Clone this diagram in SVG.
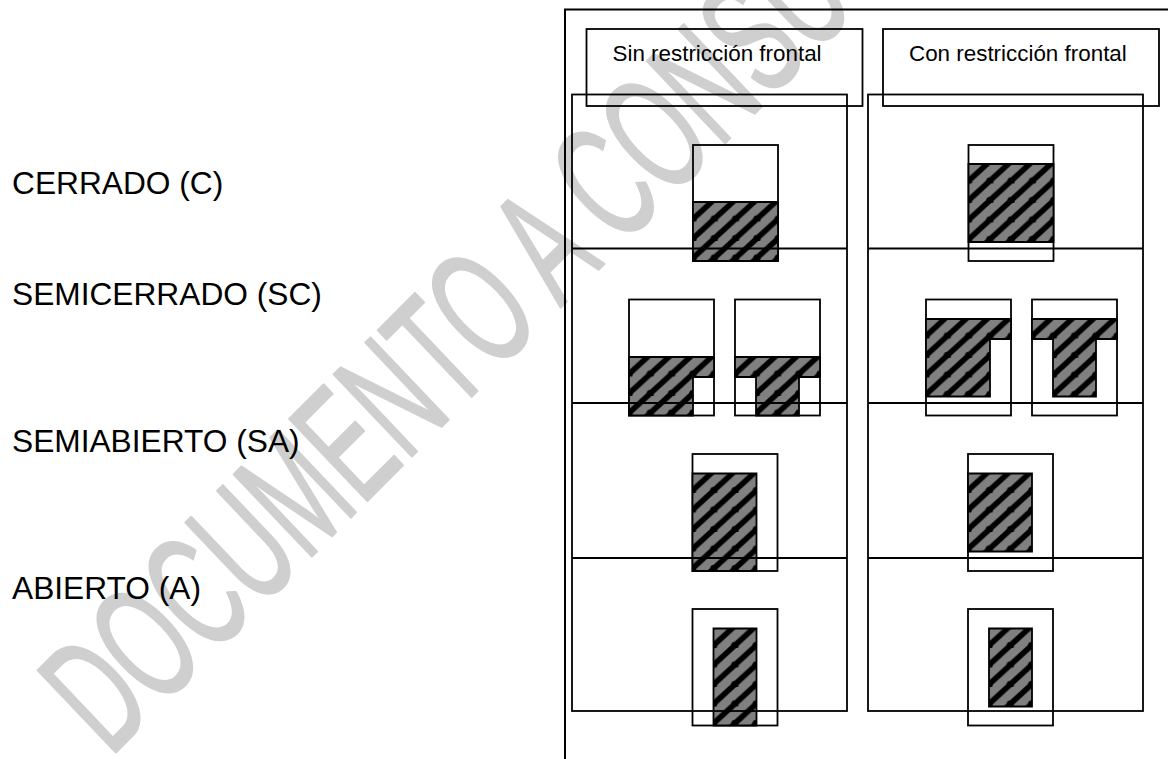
<svg xmlns="http://www.w3.org/2000/svg" width="1168" height="759" viewBox="0 0 1168 759">
<style>
.bg{fill:#fff}
.wm{font-family:"Liberation Sans",Arial,sans-serif;font-size:100px;fill:#cfcfcf;stroke:#cfcfcf;stroke-width:1.5px;stroke-linejoin:round}
.lbl{font-family:"Liberation Sans",Arial,sans-serif;font-size:31.7px;fill:#000}
.hdr{font-family:"Liberation Sans",Arial,sans-serif;font-size:22.4px;fill:#000}
.box{fill:none;stroke:#000;stroke-width:1.8}
.frame{fill:none;stroke:#000;stroke-width:2}
.h{fill:url(#hatch);stroke:#000;stroke-width:1.8}
</style>
<defs>
<pattern id="hatch" patternUnits="userSpaceOnUse" width="21.3" height="19.5">
<rect width="21.3" height="19.5" fill="#808080"/>
<path d="M-3 19.750L24.300 -5.250M-3 39.250L24.300 14.250M-3 0.250L24.300 -24.750" stroke="#000" stroke-width="5.600" fill="none"/>
<circle cx="0" cy="17" r="3.700" fill="#000"/>
<circle cx="21.300" cy="17" r="3.700" fill="#000"/>
</pattern>
</defs>
<rect class="bg" width="1168" height="759"/>
<text id="watermark" class="wm" transform="matrix(0.666 -0.666 1.13 1.19 110 758)" x="0" y="0">DOCUMENTO A CONSU</text>
<g id="labels">
<text class="lbl" x="12" y="193.500">CERRADO (C)</text>
<text class="lbl" x="12" y="305">SEMICERRADO (SC)</text>
<text class="lbl" x="12" y="452">SEMIABIERTO (SA)</text>
<text class="lbl" x="12" y="599">ABIERTO (A)</text>
</g>
<g id="frame"><path class="frame" d="M565 759V9.500H1168"/></g>
<g id="header-sin"><rect class="box" x="586.500" y="29" width="276" height="77"/><text class="hdr" x="612.500" y="61">Sin restricción frontal</text></g>
<g id="header-con"><rect class="box" x="883" y="29" width="276" height="77"/><text class="hdr" x="909" y="61">Con restricción frontal</text></g>
<g id="c-sin"><rect class="box" x="693" y="145" width="85" height="116"/><path class="h" transform="translate(693 202)" d="M0 0H85V59H0Z"/></g>
<g id="c-con"><rect class="box" x="968.500" y="145" width="85" height="116"/><path class="h" transform="translate(968.500 164)" d="M0 0H85V78H0Z"/></g>
<g id="sc-sin-1"><rect class="box" x="629" y="299.500" width="85" height="116"/><path class="h" transform="translate(629 357)" d="M0 0H85V20H64V58.500H0Z"/></g>
<g id="sc-sin-2"><rect class="box" x="735" y="299.500" width="85" height="116"/><path class="h" transform="translate(735 357)" d="M0 0H85V20H64V58.500H21V20H0Z"/></g>
<g id="sc-con-1"><rect class="box" x="926" y="299.500" width="85" height="116"/><path class="h" transform="translate(926 319)" d="M0 0H85V20H64V77.500H0Z"/></g>
<g id="sc-con-2"><rect class="box" x="1032" y="299.500" width="85" height="116"/><path class="h" transform="translate(1032 319)" d="M0 0H85V20H64V77.500H21V20H0Z"/></g>
<g id="sa-sin"><rect class="box" x="692.500" y="454" width="85" height="117"/><path class="h" transform="translate(692.500 473.500)" d="M0 0H64V97.500H0Z"/></g>
<g id="sa-con"><rect class="box" x="968" y="454" width="85" height="117"/><path class="h" transform="translate(968 473.500)" d="M0 0H64V78H0Z"/></g>
<g id="a-sin"><rect class="box" x="692.500" y="609" width="85" height="116.500"/><path class="h" transform="translate(713.500 628.500)" d="M0 0H43V97H0Z"/></g>
<g id="a-con"><rect class="box" x="968" y="609" width="85" height="116.500"/><path class="h" transform="translate(989 628.500)" d="M0 0H43V78H0Z"/></g>
<g id="connectors">
<rect class="box" x="572" y="94.500" width="275" height="616.500"/>
<rect class="box" x="868" y="94.500" width="275" height="616.500"/>
<path class="box" d="M572 248.500H847M572 403H847M572 558H847M868 248.500H1143M868 403H1143M868 558H1143"/>
</g>
</svg>
